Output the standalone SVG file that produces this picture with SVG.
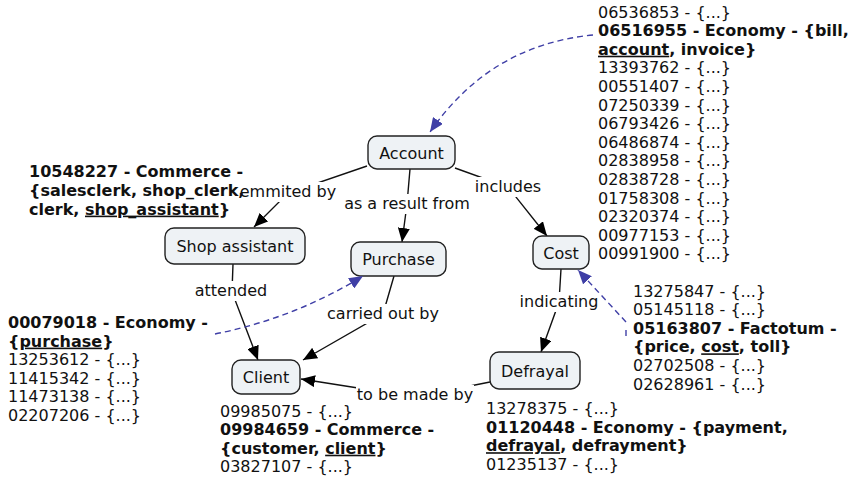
<svg xmlns="http://www.w3.org/2000/svg" width="853" height="478" viewBox="0 0 853 478">
  <defs>
    <marker id="arrow" viewBox="0 0 14 12" refX="14" refY="6" markerWidth="14" markerHeight="12" markerUnits="userSpaceOnUse" orient="auto">
      <path d="M0,0 L14,6 L0,12 z" fill="#000"/>
    </marker>
    <marker id="arrowBlue" viewBox="0 0 14 12" refX="14" refY="6" markerWidth="14" markerHeight="12" markerUnits="userSpaceOnUse" orient="auto">
      <path d="M0,0 L14,6 L0,12 z" fill="#3f3fa6"/>
    </marker>
    <style>
      text { font-family: "DejaVu Sans", "Liberation Sans", sans-serif; font-size: 16px; fill: #111; }
      .node rect { fill: #eef2f5; stroke: #222; stroke-width: 1.4; }
      .node text { text-anchor: middle; }
      .link { fill: none; stroke: #111; stroke-width: 1.4; marker-end: url(#arrow); }
      .lbg { fill: #fff; }
      .lbl { text-anchor: middle; }
      .ref { fill: none; stroke: #3f3fa6; stroke-width: 1.4; stroke-dasharray: 6 4; marker-end: url(#arrowBlue); }
      .b { font-weight: bold; }
      .u { text-decoration: underline; }
    </style>
  </defs>

  <!-- relations between concepts -->
  <g id="connectors">
    <path class="link" d="M367,166 L288,193 L254,227"/>
    <path class="link" d="M410,169 L407,204 L402,242"/>
    <path class="link" d="M455,168 L508,187 L547,236"/>
    <path class="link" d="M233,264 L232,292 L258,360"/>
    <path class="link" d="M394,276 L383,314 L303,360"/>
    <path class="link" d="M561,269 L559,302 L541,352"/>
    <path class="link" d="M490,382 L415,397 L301,379"/>

    <rect class="lbg" x="239" y="182" width="98" height="20"/>
    <text class="lbl" x="288" y="197">emmited by</text>
    <rect class="lbg" x="344" y="194" width="127" height="20"/>
    <text class="lbl" x="407" y="209">as a result from</text>
    <rect class="lbg" x="474" y="177" width="68" height="20"/>
    <text class="lbl" x="508" y="192">includes</text>
    <rect class="lbg" x="194" y="281" width="75" height="20"/>
    <text class="lbl" x="231" y="296">attended</text>
    <rect class="lbg" x="327" y="304" width="113" height="20"/>
    <text class="lbl" x="383" y="319">carried out by</text>
    <rect class="lbg" x="519" y="292" width="80" height="20"/>
    <text class="lbl" x="559" y="307">indicating</text>
    <rect class="lbg" x="356" y="385" width="118" height="20"/>
    <text class="lbl" x="415" y="400">to be made by</text>
  </g>

  <!-- concepts -->
  <g id="account" class="node">
    <rect x="368" y="136" width="87" height="33" rx="9"/>
    <text x="411.5" y="158.5">Account</text>
  </g>
  <g id="shop-assistant" class="node">
    <rect x="165" y="228" width="140" height="36" rx="9"/>
    <text x="235" y="252">Shop assistant</text>
  </g>
  <g id="purchase" class="node">
    <rect x="351" y="242" width="95" height="34" rx="9"/>
    <text x="398.5" y="265">Purchase</text>
  </g>
  <g id="cost" class="node">
    <rect x="533" y="236" width="56" height="33" rx="9"/>
    <text x="561" y="258.5">Cost</text>
  </g>
  <g id="client" class="node">
    <rect x="232" y="360" width="68" height="34" rx="9"/>
    <text x="266" y="383">Client</text>
  </g>
  <g id="defrayal" class="node">
    <rect x="490" y="352" width="90" height="37" rx="9"/>
    <text x="535" y="376.5">Defrayal</text>
  </g>

  <!-- synset annotations -->
  <g id="synsets-account">
    <text x="598" y="17.5">06536853 - {...}</text>
    <text x="598" y="36.1" class="b">06516955 - Economy - {bill,</text>
    <text x="598" y="54.7" class="b"><tspan class="u">account</tspan>, invoice}</text>
    <text x="598" y="73.3">13393762 - {...}</text>
    <text x="598" y="91.9">00551407 - {...}</text>
    <text x="598" y="110.5">07250339 - {...}</text>
    <text x="598" y="129.1">06793426 - {...}</text>
    <text x="598" y="147.7">06486874 - {...}</text>
    <text x="598" y="166.3">02838958 - {...}</text>
    <text x="598" y="184.9">02838728 - {...}</text>
    <text x="598" y="203.5">01758308 - {...}</text>
    <text x="598" y="222.1">02320374 - {...}</text>
    <text x="598" y="240.7">00977153 - {...}</text>
    <text x="598" y="259.3">00991900 - {...}</text>
  </g>
  <g id="synsets-shop-assistant">
    <text x="29" y="177.4" class="b">10548227 - Commerce -</text>
    <text x="29" y="196" class="b">{salesclerk, shop_clerk,</text>
    <text x="29" y="214.6" class="b">clerk, <tspan class="u">shop_assistant</tspan>}</text>
  </g>
  <g id="synsets-purchase">
    <text x="8" y="328" class="b">00079018 - Economy -</text>
    <text x="8" y="346.6" class="b">{<tspan class="u">purchase</tspan>}</text>
    <text x="8" y="365.2">13253612 - {...}</text>
    <text x="8" y="383.8">11415342 - {...}</text>
    <text x="8" y="402.4">11473138 - {...}</text>
    <text x="8" y="421">02207206 - {...}</text>
  </g>
  <g id="synsets-client">
    <text x="220" y="416.5">09985075 - {...}</text>
    <text x="220" y="435.1" class="b">09984659 - Commerce -</text>
    <text x="220" y="453.7" class="b">{customer, <tspan class="u">client</tspan>}</text>
    <text x="220" y="472.3">03827107 - {...}</text>
  </g>
  <g id="synsets-cost">
    <text x="633" y="296.5">13275847 - {...}</text>
    <text x="633" y="315.1">05145118 - {...}</text>
    <text x="633" y="333.7" class="b">05163807 - Factotum -</text>
    <text x="633" y="352.3" class="b">{price, <tspan class="u">cost</tspan>, toll}</text>
    <text x="633" y="370.9">02702508 - {...}</text>
    <text x="633" y="389.5">02628961 - {...}</text>
  </g>
  <g id="synsets-defrayal">
    <text x="486" y="414">13278375 - {...}</text>
    <text x="486" y="432.6" class="b">01120448 - Economy - {payment,</text>
    <text x="486" y="451.2" class="b"><tspan class="u">defrayal</tspan>, defrayment}</text>
    <text x="486" y="469.8">01235137 - {...}</text>
  </g>

  <!-- links from synsets to concepts -->
  <g id="synset-links">
    <path class="ref" d="M593,35 Q490,45 430,132"/>
    <path class="ref" d="M215,334 Q295,318 363,276"/>
    <path class="ref" d="M626,322 L578,270"/>
    <path class="ref" d="M626,330 L626,340" marker-end="none" style="marker-end:none" stroke-dasharray="2 2"/>
  </g>
</svg>
